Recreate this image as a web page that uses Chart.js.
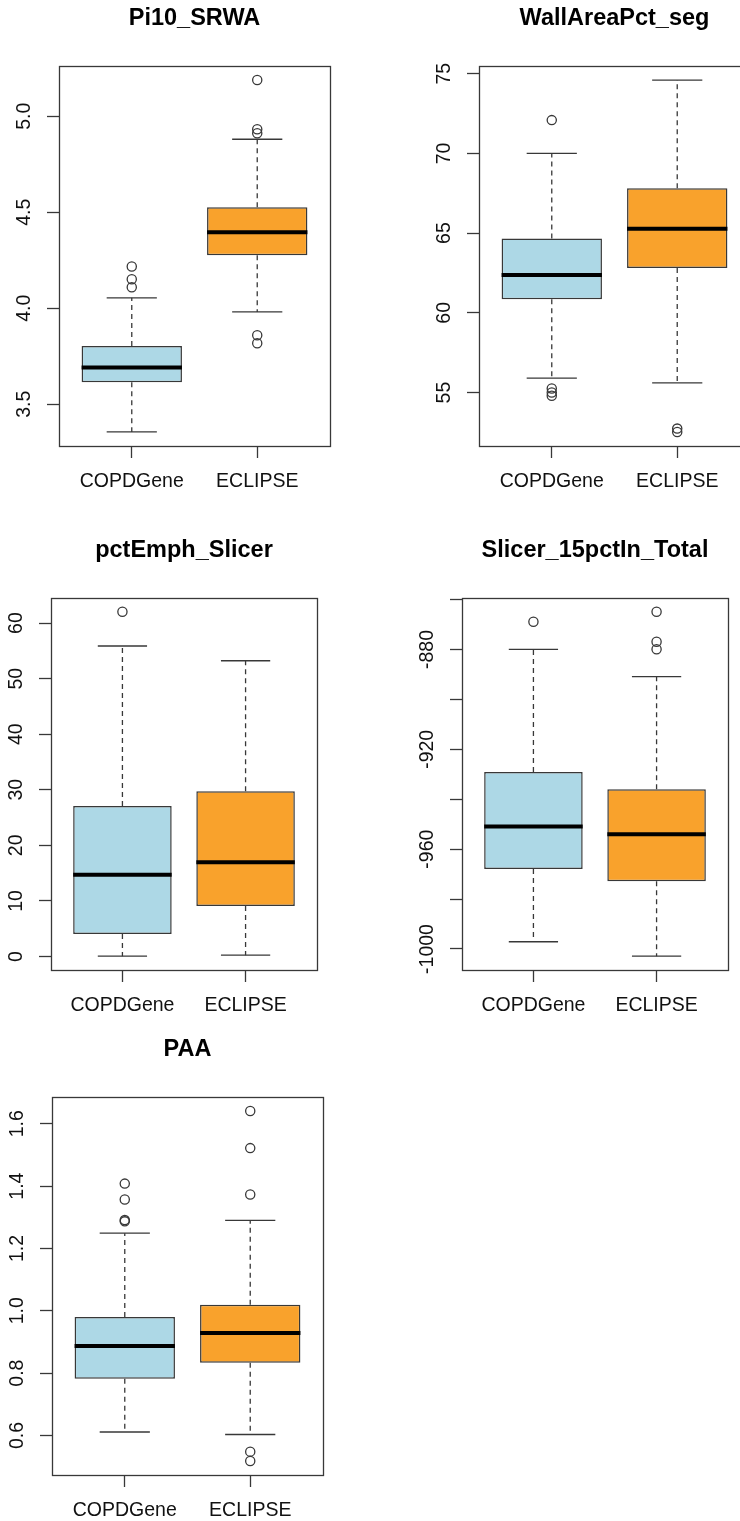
<!DOCTYPE html>
<html>
<head>
<meta charset="utf-8">
<script src="https://cdn.jsdelivr.net/npm/chart.js@4.4.1/dist/chart.umd.min.js"></script>
<style>
html, body { margin: 0; padding: 0; background: #ffffff; overflow: hidden; width: 740px; height: 1521px; }
body { position: relative; }
canvas { position: absolute; }
</style>
</head>
<body>
<script>
// ---------------- DATA ----------------
const categories = ['COPDGene', 'ECLIPSE'];
const boxColors = ['#ADD8E6', '#F9A22C'];

// each row: [lower whisker, Q1, median, Q3, upper whisker]
const pi10Stats = [[3.356, 3.615, 3.691, 3.804, 4.054], [3.981, 4.276, 4.396, 4.526, 4.880]];
const pi10Outliers = [[4.217, 4.151, 4.109], [5.188, 4.932, 4.911, 3.859, 3.818]];
const pi10Ticks = [3.5, 4.0, 4.5, 5.0];
const pi10TickLabels = ['3.5', '4.0', '4.5', '5.0'];

const wallStats = [[55.9, 60.85, 62.37, 64.66, 70.0], [55.61, 62.81, 65.28, 67.82, 74.6]];
const wallOutliers = [[72.09, 55.25, 55.0, 54.8], [52.74, 52.53]];
const wallTicks = [55, 60, 65, 70, 75];
const wallTickLabels = ['55', '60', '65', '70', '75'];

const emphStats = [[0.05, 4.06, 14.73, 27.1, 55.87], [0.23, 9.09, 16.94, 29.75, 53.22]];
const emphOutliers = [[62.03], []];
const emphTicks = [0, 10, 20, 30, 40, 50, 60];
const emphTickLabels = ['0', '10', '20', '30', '40', '50', '60'];

const slicerStats = [[-997.1, -968.0, -950.9, -929.1, -880.0], [-1002.9, -972.9, -954.0, -936.0, -890.9]];
const slicerOutliers = [[-868.9], [-864.9, -876.9, -879.9]];
const slicerTicks = [-1000, -980, -960, -940, -920, -900, -880, -860];
const slicerTickLabels = ['-1000', '', '-960', '', '-920', '', '-880', ''];

const paaStats = [[0.611, 0.782, 0.887, 0.980, 1.249], [0.603, 0.833, 0.929, 1.019, 1.290]];
const paaOutliers = [[1.408, 1.357, 1.291, 1.287], [1.641, 1.522, 1.373, 0.548, 0.518]];
const paaTicks = [0.6, 0.8, 1.0, 1.2, 1.4, 1.6];
const paaTickLabels = ['0.6', '0.8', '1.0', '1.2', '1.4', '1.6'];

// ---------------- LAYOUT ----------------
const panels = [
  { title: 'Pi10_SRWA', stats: pi10Stats, outliers: pi10Outliers, ticks: pi10Ticks, labels: pi10TickLabels,
    area: { left: 59, top: 66, width: 271, height: 380 } },
  { title: 'WallAreaPct_seg', stats: wallStats, outliers: wallOutliers, ticks: wallTicks, labels: wallTickLabels,
    area: { left: 479, top: 66, width: 271, height: 380 } },
  { title: 'pctEmph_Slicer', stats: emphStats, outliers: emphOutliers, ticks: emphTicks, labels: emphTickLabels,
    area: { left: 51, top: 598, width: 266, height: 372 } },
  { title: 'Slicer_15pctIn_Total', stats: slicerStats, outliers: slicerOutliers, ticks: slicerTicks, labels: slicerTickLabels,
    area: { left: 462, top: 598, width: 266, height: 372 } },
  { title: 'PAA', stats: paaStats, outliers: paaOutliers, ticks: paaTicks, labels: paaTickLabels,
    area: { left: 52, top: 1097, width: 271, height: 378 } }
];

const FONT = "'Liberation Sans', Arial, Helvetica, sans-serif";
const TICK_SIZE = 19.5;
const TITLE_SIZE = 23.5;
const LINE = '#383838';
const Y_AXIS_W = 59, X_AXIS_H = 59, TITLE_H = 66, RIGHT_PAD = 40;
const LABEL_OFFSET = 34; // distance from axis to centre of rotated y labels

const measureCtx = document.createElement('canvas').getContext('2d');
measureCtx.font = TICK_SIZE + 'px ' + FONT;

const framePlugin = {
  id: 'frame',
  afterDraw(chart) {
    const { ctx, chartArea: a } = chart;
    ctx.save();
    ctx.strokeStyle = LINE;
    ctx.lineWidth = 1.3;
    ctx.strokeRect(Math.round(a.left) + 0.5, Math.round(a.top) + 0.5,
      Math.round(a.right - a.left), Math.round(a.bottom - a.top));
    ctx.restore();
  }
};

function makePanel(p) {
  const cw = p.area.width + Y_AXIS_W + RIGHT_PAD;
  const ch = p.area.height + TITLE_H + X_AXIS_H;
  const canvas = document.createElement('canvas');
  canvas.width = cw; canvas.height = ch;
  canvas.style.left = (p.area.left - Y_AXIS_W) + 'px';
  canvas.style.top = (p.area.top - TITLE_H) + 'px';
  canvas.style.width = cw + 'px';
  canvas.style.height = ch + 'px';
  document.body.appendChild(canvas);

  const n = categories.length;
  const xs = categories.map((_, i) => i + 1);
  const xLo = 0.5, xHi = n + 0.5, xExt = 0.04 * (xHi - xLo);
  const allVals = p.stats.flatMap(s => [s[0], s[4]]).concat(p.outliers.flat());
  const yLo = Math.min(...allVals), yHi = Math.max(...allVals), yExt = 0.04 * (yHi - yLo);

  const gap = x => ({ x: x, y: null });
  const boxData = xs.map((x, i) => ({ x: x, y: [p.stats[i][1], p.stats[i][3]] }));
  const whiskerData = xs.flatMap((x, i) => [
    { x: x, y: p.stats[i][3] }, { x: x, y: p.stats[i][4] }, gap(x),
    { x: x, y: p.stats[i][1] }, { x: x, y: p.stats[i][0] }, gap(x)
  ]);
  const capData = xs.flatMap((x, i) => [
    { x: x - 0.2, y: p.stats[i][4] }, { x: x + 0.2, y: p.stats[i][4] }, gap(x),
    { x: x - 0.2, y: p.stats[i][0] }, { x: x + 0.2, y: p.stats[i][0] }, gap(x)
  ]);
  const medianData = xs.flatMap((x, i) => [
    { x: x - 0.4, y: p.stats[i][2] }, { x: x + 0.4, y: p.stats[i][2] }, gap(x)
  ]);
  const outlierData = xs.flatMap((x, i) => p.outliers[i].map(v => ({ x: x, y: v })));

  const widest = Math.max(...p.labels.map(l => measureCtx.measureText(l).width));
  const yPad = LABEL_OFFSET - 12 - widest / 2;

  new Chart(canvas, {
    type: 'bar',
    data: {
      datasets: [
        { type: 'bar', data: boxData, backgroundColor: boxColors, borderColor: LINE, borderWidth: 1.5,
          borderSkipped: false, barPercentage: 0.8, categoryPercentage: 1, grouped: false, order: 5 },
        { type: 'line', data: whiskerData, borderColor: LINE, borderWidth: 1.3, borderDash: [5, 4],
          pointRadius: 0, spanGaps: false, fill: false, tension: 0, order: 4 },
        { type: 'line', data: capData, borderColor: LINE, borderWidth: 1.3,
          pointRadius: 0, spanGaps: false, fill: false, tension: 0, order: 3 },
        { type: 'line', data: medianData, borderColor: '#000000', borderWidth: 4, borderCapStyle: 'butt',
          pointRadius: 0, spanGaps: false, fill: false, tension: 0, order: 2 },
        { type: 'scatter', data: outlierData, showLine: false, pointRadius: 4.6, pointBorderWidth: 1.3,
          pointBackgroundColor: 'rgba(0,0,0,0)', pointBorderColor: LINE, order: 1 }
      ]
    },
    options: {
      responsive: false,
      animation: false,
      devicePixelRatio: 1,
      events: [],
      layout: { padding: { left: 0, right: RIGHT_PAD, top: 0, bottom: 0 } },
      plugins: {
        legend: { display: false },
        tooltip: { enabled: false },
        title: {
          display: true, text: p.title, fullSize: false, color: '#000000',
          font: { family: FONT, size: TITLE_SIZE, weight: 'bold', lineHeight: 1.2 },
          padding: { top: 4.4, bottom: 33.4 }
        }
      },
      scales: {
        x: {
          type: 'linear', min: xLo - xExt, max: xHi + xExt, offset: false,
          afterBuildTicks: s => { s.ticks = xs.map(v => ({ value: v })); },
          afterFit: s => { s.height = X_AXIS_H; },
          ticks: { callback: (v, i) => categories[i], autoSkip: false, maxRotation: 0, minRotation: 0,
            padding: 12, color: '#111111', font: { family: FONT, size: TICK_SIZE } },
          grid: { offset: false, drawOnChartArea: false, drawTicks: true, tickLength: 12,
            color: LINE, tickColor: LINE, tickWidth: 1.3 },
          border: { display: false }
        },
        y: {
          type: 'linear', min: yLo - yExt, max: yHi + yExt,
          afterBuildTicks: s => { s.ticks = p.ticks.map(v => ({ value: v })); },
          afterFit: s => { s.width = Y_AXIS_W; },
          ticks: { callback: (v, i) => p.labels[i], autoSkip: false, minRotation: 90, maxRotation: 90,
            crossAlign: 'center', padding: yPad, color: '#111111', font: { family: FONT, size: TICK_SIZE } },
          grid: { drawOnChartArea: false, drawTicks: true, tickLength: 12,
            color: LINE, tickColor: LINE, tickWidth: 1.3 },
          border: { display: false }
        }
      }
    },
    plugins: [framePlugin]
  });
}

panels.forEach(makePanel);
</script>
</body>
</html>
